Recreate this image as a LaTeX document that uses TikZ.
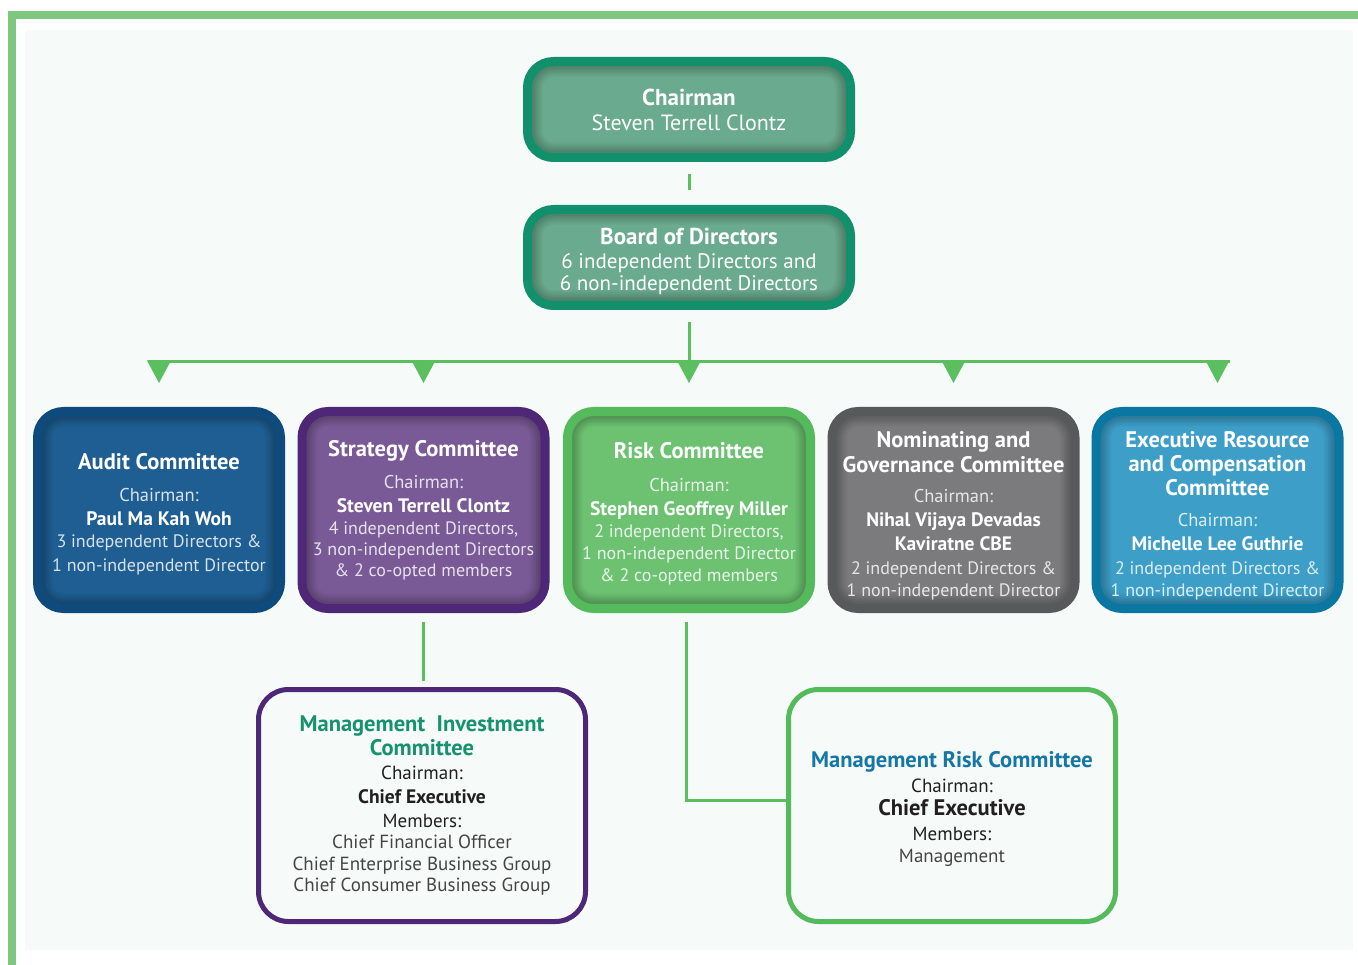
\documentclass[tikz,border=0pt]{standalone}
\usepackage{fontspec}
\setmainfont{PT Sans}
\usetikzlibrary{calc}
\definecolor{frameG}{HTML}{7DC77F}
\definecolor{bgc}{HTML}{F6FAF9}
\definecolor{lineG}{HTML}{5BBE5F}
\definecolor{chairB}{HTML}{12906B}
\definecolor{chairF}{HTML}{6AAA8E}
\definecolor{audB}{HTML}{0E4A7C}
\definecolor{audF}{HTML}{1F5E92}
\definecolor{strB}{HTML}{4F2777}
\definecolor{strF}{HTML}{7A5A96}
\definecolor{riskB}{HTML}{55BA5B}
\definecolor{riskF}{HTML}{6CC271}
\definecolor{nomB}{HTML}{58595B}
\definecolor{nomF}{HTML}{7B7B7D}
\definecolor{exeB}{HTML}{0A76A2}
\definecolor{exeF}{HTML}{3D9EC8}
\definecolor{micT}{HTML}{16926D}
\definecolor{mrcT}{HTML}{1577A6}
\definecolor{darkT}{HTML}{231F20}
\definecolor{grayT}{HTML}{454545}
\newcommand\fT{\fontsize{22.5}{24}\selectfont\bfseries}
\newcommand\fC{\fontsize{18.5}{24}\selectfont\mdseries}
\newcommand\fN{\fontsize{19.5}{24}\selectfont\bfseries}
\newcommand\fB{\fontsize{18}{22}\selectfont\mdseries}
\newcommand\cbx[3]{\parbox{#1}{\centering\vspace*{#2}#3\par}}
\tikzset{
  cbox/.style 2 args={draw=#1, fill=#2, line width=9pt, rounded corners=26pt,
    inner sep=0pt, text=white,
    path picture={
      \foreach \w/\o in {30/0.04,26/0.04,22/0.05,18/0.05,14/0.06}
        \draw[line width=\w pt, black, opacity=\o, rounded corners=26pt]
          (path picture bounding box.south west) rectangle (path picture bounding box.north east);
    }},
  combox/.style={minimum width=243pt, minimum height=197pt},
  topbox/.style={minimum width=323pt, minimum height=96pt},
  subbox/.style={draw=#1, line width=5pt, fill=bgc, rounded corners=30pt,
    minimum width=327pt, minimum height=232pt, inner sep=0pt},
  conn/.style={draw=lineG, line width=3pt}
}
\begin{document}
\begin{tikzpicture}[x=1pt,y=-1pt]
\useasboundingbox (0,0) rectangle (1358,965);
\fill[white] (0,0) rectangle (1358,965);
\fill[frameG] (8,11) rectangle (1358,19);
\fill[frameG] (8,11) rectangle (16,965);
\fill[bgc] (25,30) rectangle (1353,950);

\node[cbox={chairB}{chairF}, topbox] (chair) at (689,109.5)
  {\cbx{310pt}{0pt}{\fontsize{23}{25}\selectfont\bfseries Chairman\\
   \fontsize{22}{25}\selectfont\mdseries Steven Terrell Clontz}};
\node[cbox={chairB}{chairF}, topbox] (board) at (689,257.5)
  {\cbx{310pt}{8pt}{\fontsize{23}{24}\selectfont\bfseries Board of Directors\\
   \fontsize{21}{24}\selectfont\mdseries 6 independent Directors and\\
   \fontsize{21}{22}\selectfont 6 non-independent Directors}};

\node[cbox={audB}{audF}, combox] (aud) at (159,510)
  {\cbx{240pt}{8pt}{\fT Audit Committee\\[8pt]
   \fC\color{white!82!audF}Chairman:\\
   \fN\color{white}Paul Ma Kah Woh\\
   \fB\color{white!82!audF}3 independent Directors \&\\
   \fontsize{18}{24}\selectfont 1 non-independent Director}};
\node[cbox={strB}{strF}, combox] (str) at (423.5,510)
  {\cbx{240pt}{0pt}{\fT Strategy Committee\\[8pt]
   \fC\color{white!82!strF}Chairman:\\
   \fN\color{white}Steven Terrell Clontz\\
   \fB\color{white!82!strF}4 independent Directors,\\
   \fontsize{18}{21}\selectfont 3 non-independent Directors\\
   \& 2 co-opted members}};
\node[cbox={riskB}{riskF}, combox] (risk) at (689,510)
  {\cbx{240pt}{8pt}{\fT Risk Committee\\[9pt]
   \fC\color{white!85!riskF}Chairman:\\
   \fN\color{white}Stephen Geoffrey Miller\\
   \fB\color{white!85!riskF}2 independent Directors,\\
   1 non-independent Director\\
   \& 2 co-opted members}};
\node[cbox={nomB}{nomF}, combox] (nom) at (953.5,510)
  {\cbx{240pt}{12pt}{\fT Nominating and\\
   \fontsize{22.5}{25}\selectfont Governance Committee\\[6pt]
   \fC\color{white!82!nomF}Chairman:\\
   \fN\color{white}Nihal Vijaya Devadas\\
   Kaviratne CBE\\
   \fontsize{18}{24}\selectfont\mdseries\color{white!82!nomF}2 independent Directors \&\\
   \fB 1 non-independent Director}};
\node[cbox={exeB}{exeF}, combox] (exe) at (1217.5,510)
  {\cbx{240pt}{12pt}{\fT Executive Resource\\
   and Compensation\\
   Committee\\[7pt]
   \fC\color{white!82!exeF}Chairman:\\
   \fN\color{white}Michelle Lee Guthrie\\
   \fontsize{18}{24}\selectfont\mdseries\color{white!82!exeF}2 independent Directors \&\\
   \fB 1 non-independent Director}};

\node[subbox=strB] (mic) at (422,805.5)
  {\cbx{320pt}{0pt}{\fT\color{micT}Management\ \ Investment\\
   Committee\\
   \fontsize{19}{24}\selectfont\mdseries\color{darkT}Chairman:\\
   \fontsize{19.5}{24}\selectfont\bfseries Chief Executive\\
   \fontsize{19}{24}\selectfont\mdseries Members:\\
   \fontsize{19}{21.5}\selectfont\color{grayT}Chief Financial Officer\\
   Chief Enterprise Business Group\\
   Chief Consumer Business Group}};
\node[subbox=riskB] (mrc) at (952,805.5)
  {\cbx{320pt}{6pt}{\fT\color{mrcT}Management Risk Committee\\
   \fontsize{19}{25}\selectfont\mdseries\color{darkT}Chairman:\\
   \fontsize{22.5}{23}\selectfont\bfseries Chief Executive\\
   \fontsize{19}{25}\selectfont\mdseries Members:\\
   \fontsize{19}{22}\selectfont\color{grayT}Management}};

\coordinate (busL) at (148,362);
\coordinate (busR) at (1230,362);
\draw[conn, shorten <=12.5pt, shorten >=14.5pt] (chair.south) -- (board.north);
\draw[conn, shorten <=12.5pt] (board.south) -- (board.south |- busL);
\draw[conn] (busL) -- (busR);
\foreach \n in {aud,str,risk,nom,exe}
  \fill[lineG] (\n.north |- busL) ++(-12,-1.5) -- ++(24,0) -- ++(-12,22.5) -- cycle;
\draw[conn, shorten <=8.5pt, shorten >=6.5pt] (str.south) -- (str.south |- mic.north);
\draw[conn, shorten <=8.5pt] ([xshift=-3pt]risk.south) |- ([yshift=5pt]mrc.west);
\end{tikzpicture}
\end{document}
